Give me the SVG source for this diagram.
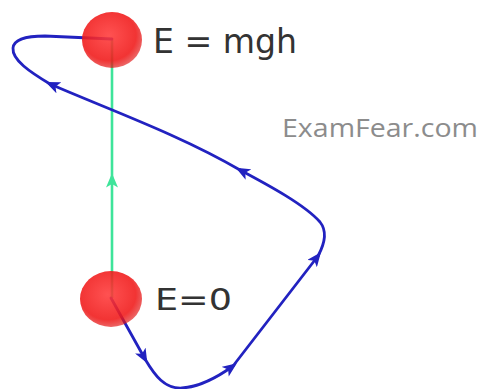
<svg xmlns="http://www.w3.org/2000/svg" width="485" height="389" viewBox="0 0 485 389">
<defs>
<style>
.path{fill:none;stroke:#2222c0;stroke-width:2.8;stroke-linecap:round}
.lbl{font-family:"DejaVu Sans",sans-serif;fill:#333333}
</style>
<radialGradient id="ball" cx="0.45" cy="0.42" r="0.6">
<stop offset="0" stop-color="#ff3a3a"/>
<stop offset="0.75" stop-color="#f01818"/>
<stop offset="1" stop-color="#e01010" stop-opacity="0.7"/>
</radialGradient>
<marker id="ab" viewBox="0 0 12 10" refX="8" refY="5" markerWidth="15" markerHeight="12" markerUnits="userSpaceOnUse" orient="auto">
<path d="M0,0 L12,5 L0,10 L3,5 z" fill="#2222c0"/>
</marker>
<marker id="ag" viewBox="0 0 12 10" refX="8" refY="5" markerWidth="15" markerHeight="12" markerUnits="userSpaceOnUse" orient="auto">
<path d="M0,0 L12,5 L0,10 L3,5 z" fill="#3ee49a"/>
</marker>
</defs>
<rect width="485" height="389" fill="#ffffff"/>
<g id="connectors">
<path d="M112,298 L112,178" fill="none" stroke="#3ee49a" stroke-width="2.6" marker-end="url(#ag)"/>
<path d="M112,178 L112,40" fill="none" stroke="#3ee49a" stroke-width="2.6"/>
<path class="path" d="M111,298 L145,359" marker-end="url(#ab)"/>
<path class="path" d="M145,359 C155,376 165,389 182,388 C198,387 215,379 233,366" marker-end="url(#ab)"/>
<path class="path" d="M233,366 L318,256" marker-end="url(#ab)"/>
<path class="path" d="M318,256 C324,245 328,232 320,222 C305,205 270,186 240,170" marker-end="url(#ab)"/>
<path class="path" d="M240,170 C180,135 110,110 50,84" marker-end="url(#ab)"/>
<path class="path" d="M50,84 C30,72 12,60 13,48 C14,38 30,36 45,36 L112,39"/>
</g>
<g id="top-ball" opacity="0.88">
<ellipse cx="112" cy="40" rx="30" ry="28" fill="url(#ball)"/>
</g>
<g id="bottom-ball" opacity="0.88">
<ellipse cx="111" cy="299" rx="31" ry="28" fill="url(#ball)"/>
</g>
<g id="label-top">
<text class="lbl" x="153" y="53" font-size="33" textLength="144" lengthAdjust="spacingAndGlyphs">E = mgh</text>
</g>
<g id="label-bottom">
<text class="lbl" x="155" y="310" font-size="30" textLength="77" lengthAdjust="spacingAndGlyphs">E=0</text>
</g>
<g id="watermark">
<text x="282" y="137" font-family="'Open Sans',sans-serif" font-size="26" fill="#8c8c8c" textLength="196" lengthAdjust="spacingAndGlyphs">ExamFear.com</text>
</g>
</svg>
